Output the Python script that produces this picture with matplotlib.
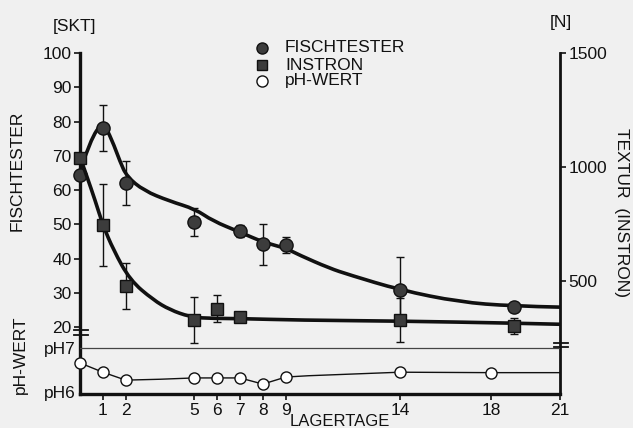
import numpy as np
import matplotlib
matplotlib.use('Agg')
import matplotlib.pyplot as plt
from matplotlib.path import Path
from matplotlib.patches import PathPatch
from matplotlib.lines import Line2D

plt.rcParams['font.family'] = ['Liberation Sans', 'DejaVu Sans']
plt.rcParams['font.size'] = 12.5

# --- data ---
# Fischtester [SKT]
fisch_days = [0, 1, 2, 5, 7, 8, 9, 14, 19]
fisch_vals = [64.4, 78.0, 62.0, 50.7, 48.0, 44.2, 43.9, 30.8, 25.8]
fisch_err = [0, 6.7, 6.4, 4.1, 1.8, 6.0, 2.4, 9.6, 0]
# smooth fitted curve (control points)
fisch_curve_x = [0, 0.45, 1.0, 1.4, 1.75, 2.05, 2.8, 3.9, 5.05, 5.8, 7.0, 8.0, 9.0, 9.6, 10.9, 11.8, 14.0, 16.6, 18.9, 21.0]
fisch_curve_y = [65.5, 74.6, 80.0, 74.6, 68.3, 63.9, 59.8, 56.8, 54.4, 51.0, 47.7, 44.8, 43.0, 41.0, 37.2, 35.2, 30.8, 27.3, 26.1, 25.8]

# Instron [N]
inst_days = [0, 1, 2, 5, 6, 7, 14, 19]
inst_vals = [1042, 747, 480, 330, 380, 345, 330, 305]
inst_err = [0, 180, 100, 100, 60, 0, 95, 36]
inst_curve_x = [0, 0.3, 0.66, 1.0, 1.46, 2.19, 3.2, 3.94, 4.8, 5.5, 7.0, 9.6, 14.0, 19.0, 21.0]
inst_curve_y = [1045, 960, 855, 747, 638, 505, 419, 375, 345, 338, 337, 330, 326, 317, 312]

# pH
ph_days = [0, 1, 2, 5, 6, 7, 8, 9, 14, 18]
ph_vals = [6.66, 6.45, 6.27, 6.32, 6.32, 6.32, 6.18, 6.34, 6.45, 6.44]
ph_line_x = [0, 1, 2, 3.5, 5, 6, 7, 8, 9, 10, 14, 18, 21]
ph_line_y = [6.66, 6.45, 6.27, 6.29, 6.32, 6.32, 6.32, 6.18, 6.34, 6.37, 6.45, 6.44, 6.44]

xticks = [1, 2, 5, 6, 7, 8, 9, 14, 18, 21]

W, H = 633, 428
fig = plt.figure(figsize=(W / 100, H / 100), dpi=100)
bg = '#f0f0f0'
fig.patch.set_facecolor(bg)
ink = '#111111'
face = '#3c3c3c'


def smooth_path(xs, ys):
    # quadratic b-spline through the control points, drawn by matplotlib
    pts = list(zip(xs, ys))
    verts = [pts[0]]
    codes = [Path.MOVETO]
    for i in range(1, len(pts) - 1):
        mid = ((pts[i][0] + pts[i + 1][0]) / 2, (pts[i][1] + pts[i + 1][1]) / 2)
        if i == len(pts) - 2:
            mid = pts[i + 1]
        verts += [pts[i], mid]
        codes += [Path.CURVE3, Path.CURVE3]
    return Path(verts, codes)


rect = [80 / W, 1 - 394 / H, 480 / W, 341 / H]
ax = fig.add_axes(rect)
ax.set_facecolor('none')
ax.set_xlim(0, 21)
ax.set_ylim(0.44, 100)
ax2 = ax.twinx()
ax2.set_ylim(0.44 * 15, 1500)
axp = fig.add_axes(rect)
axp.set_facecolor('none')
axp.set_xlim(0, 21)
axp.set_ylim(5.955, 13.70)

for s in ['top', 'right']:
    ax.spines[s].set_visible(False)
for s in ['top', 'left', 'bottom']:
    ax2.spines[s].set_visible(False)
for s in axp.spines.values():
    s.set_visible(False)
ax.spines['left'].set_linewidth(2.4)
ax.spines['bottom'].set_linewidth(2.4)
ax2.spines['right'].set_linewidth(2.0)
ax.spines['left'].set_color(ink)
ax.spines['bottom'].set_color(ink)
ax2.spines['right'].set_color(ink)

ax.set_yticks([20, 30, 40, 50, 60, 70, 80, 90, 100])
ax.tick_params(axis='y', length=4, width=1.2, pad=2, colors=ink)
ax.set_xticks(xticks)
ax.tick_params(axis='x', length=4, width=1.2, pad=2.5, colors=ink)
ax2.set_yticks([500, 1000, 1500])
ax2.tick_params(axis='y', length=4, width=1.2, pad=2, colors=ink)
axp.set_xticks([])
axp.set_yticks([6, 7])
axp.set_yticklabels(['pH6', 'pH7'])
axp.tick_params(axis='y', length=0, pad=3, colors=ink)

# curves
ax.add_patch(PathPatch(smooth_path(fisch_curve_x, fisch_curve_y), fill=False, lw=2.6, ec=ink, capstyle='round', zorder=3))
ax2.add_patch(PathPatch(smooth_path(inst_curve_x, inst_curve_y), fill=False, lw=2.6, ec=ink, capstyle='round', zorder=3))

# points with error bars
ax.errorbar(fisch_days, fisch_vals, yerr=fisch_err, fmt='o', ms=9.5, mfc=face, mec=ink, mew=1,
            ecolor=ink, elinewidth=1.0, capsize=3, capthick=1.0, zorder=4, clip_on=False)
ax2.errorbar(inst_days, inst_vals, yerr=inst_err, fmt='s', ms=8.5, mfc=face, mec=ink, mew=1,
             ecolor=ink, elinewidth=1.0, capsize=3, capthick=1.0, zorder=4, clip_on=False)

# pH panel
axp.axhline(7, color='#444444', lw=0.9)
axp.plot(ph_line_x, ph_line_y, color=ink, lw=1.0, zorder=2)
axp.plot(ph_days, ph_vals, 'o', ms=8, mfc='white', mec=ink, mew=1.0, zorder=3, clip_on=False)

# axis break marks
for yy in [330, 335]:
    fig.add_artist(Line2D([74 / W, 88 / W], [1 - yy / H, 1 - yy / H], color=ink, lw=1.3,
                          transform=fig.transFigure))
for yy in [343, 347]:
    fig.add_artist(Line2D([554 / W, 568 / W], [1 - yy / H, 1 - yy / H], color=ink, lw=1.3,
                          transform=fig.transFigure))

# axis titles
fig.text(75 / W, 1 - 26 / H, '[SKT]', ha='center', va='center', color=ink)
fig.text(561 / W, 1 - 22 / H, '[N]', ha='center', va='center', color=ink)
fig.text(17 / W, 1 - 171 / H, 'FISCHTESTER', rotation=90, ha='center', va='center', color=ink)
fig.text(20 / W, 1 - 355 / H, 'pH-WERT', rotation=90, ha='center', va='center', color=ink)
fig.text(622 / W, 1 - 213 / H, 'TEXTUR  (INSTRON)', rotation=-90, ha='center', va='center', color=ink)
fig.text(340 / W, 1 - 421 / H, 'LAGERTAGE', ha='center', va='center', color=ink, fontsize=12)

# legend
leg = [('o', face, 'FISCHTESTER', 48), ('s', face, 'INSTRON', 65), ('o', 'white', 'pH-WERT', 81)]
for mk, fc, lab, yy in leg:
    fig.add_artist(Line2D([262 / W], [1 - yy / H], marker=mk, ms=8 if mk == 'o' else 7.5, mfc=fc,
                          mec=ink, mew=1, ls='none', transform=fig.transFigure))
    fig.text(285 / W, 1 - yy / H, lab, ha='left', va='center', color=ink)

fig.savefig('out.png', dpi=100, facecolor=bg)
